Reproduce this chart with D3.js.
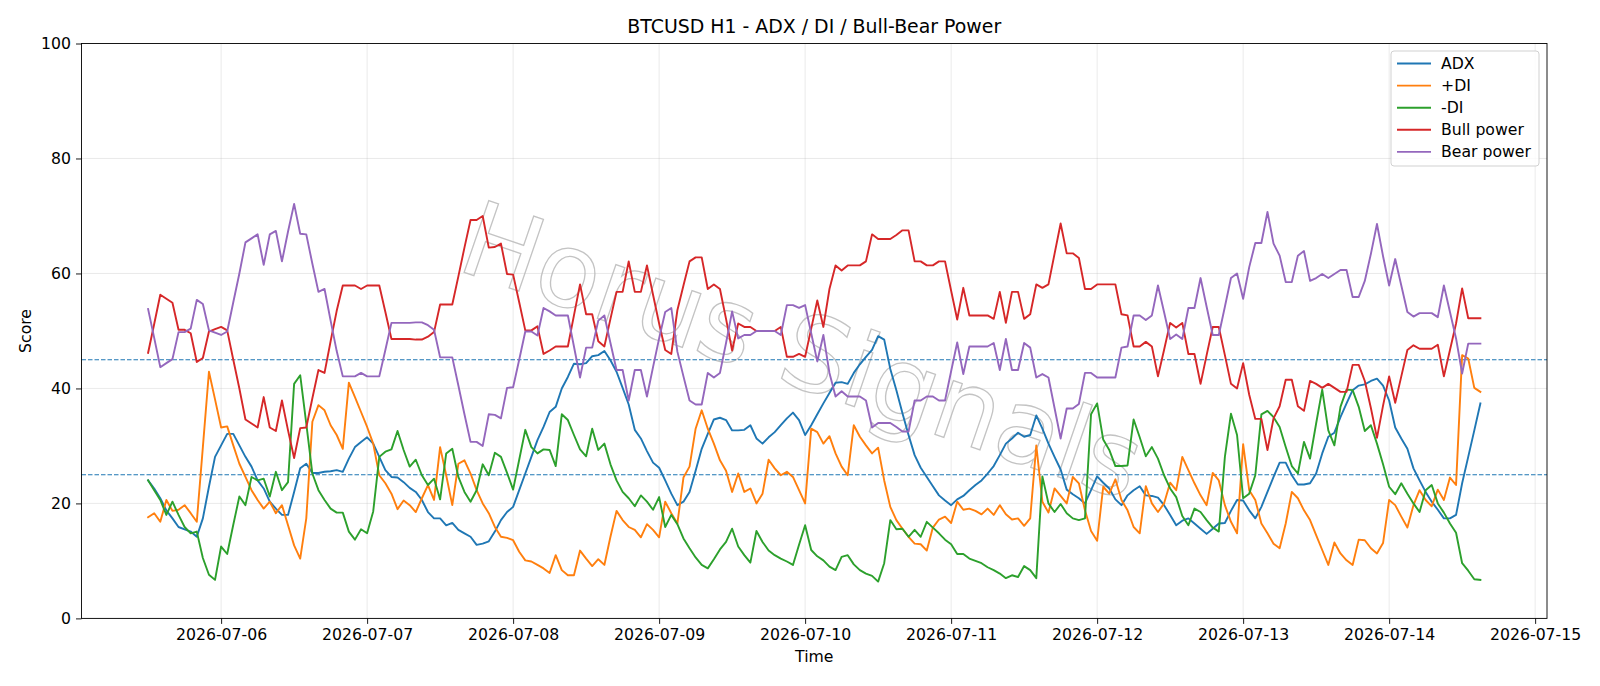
<!DOCTYPE html>
<html lang="en">
<head>
<meta charset="UTF-8">
<title>BTCUSD H1 - ADX / DI / Bull-Bear Power</title>
<script src="https://d3js.org/d3.v7.min.js"></script>
<style>
    body { margin: 0; background: #fff; }
    svg { display: block; font-family: "DejaVu Sans", sans-serif; }
</style>
</head>
<body>
<svg id="chart"></svg>
<script>
const width = 1600;
const height = 686;

// hourly bars, first one at 2026-07-05 12:00
const startTime = "2026-07-05T12:00:00Z";

const adx = [24.0, 22.6, 20.9, 18.8, 17.4, 15.9, 15.5, 15.1, 14.2, 17.4, 22.9, 28.1,
    30.1, 32.1, 32.1, 30.1, 28.1, 26.4, 24.0, 22.6, 20.3, 19.1, 18.0,
    18.0, 22.0, 26.1, 26.9, 25.3, 25.3, 25.5, 25.6, 25.8, 25.5, 27.8, 29.8, 30.7, 31.5, 30.4, 28.1, 25.8, 24.6, 24.5, 23.7, 22.7,
    22.0, 20.6, 18.5, 17.4, 17.4, 16.2, 16.6, 15.4, 14.8, 14.2, 12.8, 13.0, 13.4, 15.1, 17.1, 18.5, 19.4, 22.3, 25.2, 28.1, 31.0, 33.3, 35.9, 36.8,
    40.0, 42.0, 44.3, 44.2, 44.4, 45.6, 45.8, 46.5, 44.9, 42.9, 40.1, 37.2, 32.8, 31.3, 29.1, 27.1, 26.2, 24.0, 21.7, 19.7, 20.3, 22.0, 25.7,
    29.5, 32.1, 34.6, 34.9, 34.5, 32.7, 32.7, 32.8, 33.6, 31.3, 30.4, 31.5, 32.4, 33.6, 34.8, 35.8, 34.5, 31.9, 33.6, 35.5, 37.4, 39.2,
    41.0, 41.1, 40.8, 42.7, 44.2, 45.5, 46.7, 49.1, 48.5, 43.4, 39.7, 35.7, 31.9, 28.4, 26.2, 24.6, 23.0, 21.4, 20.5, 19.7, 20.7, 21.3, 22.3,
    23.2, 24.0, 25.2, 26.5, 28.4, 30.4, 31.3, 32.3, 31.6, 31.9, 35.3, 33.0, 30.4, 28.1, 25.9, 22.4, 21.6, 20.9, 20.0, 22.3, 24.7, 23.6, 22.6,
    20.7, 19.7, 21.4, 22.3, 23.0, 21.4, 21.3, 21.0, 19.7, 18.0, 16.2, 17.0, 17.4, 16.5, 15.6, 14.7, 15.6, 16.5, 16.6, 18.7, 20.6, 20.5,
    18.8, 17.4, 19.4, 22.0, 24.6, 27.1, 27.1, 24.9, 23.3, 23.3, 23.5, 25.2, 28.7, 31.6, 32.3, 35.0, 37.4, 39.7, 40.5, 40.7, 41.3, 41.7, 40.5,
    37.9, 33.2, 31.3, 29.5, 26.1, 24.0, 22.0, 20.3, 18.9, 17.4, 17.4, 18.0, 23.5, 28.1, 32.7, 37.4];

const plusDI = [17.6, 18.3, 16.8, 20.6, 18.7, 18.9, 19.7, 18.3, 16.8, 29.8, 42.9, 38.1,
    33.2, 33.4, 30.1, 26.9, 24.6, 22.3, 20.6, 19.1, 20.3, 18.3, 19.7,
    16.2, 12.7, 10.4, 17.4, 34.2, 37.1, 36.2, 33.6, 31.9, 29.5, 41.0, 38.5, 35.9, 33.3, 30.4, 24.9, 23.5, 21.7, 19.0, 20.5, 19.7,
    18.5, 20.9, 23.2, 20.6, 29.8, 24.9, 19.7, 26.9, 27.5, 25.2, 22.3, 20.0, 18.3, 15.9, 14.2, 14.0, 13.6, 11.6, 10.1, 9.9, 9.3, 8.7, 7.9, 11.0,
    8.4, 7.5, 7.5, 11.8, 10.4, 9.1, 10.3, 9.3, 14.2, 18.7, 17.1, 15.9, 15.4, 14.1, 16.4, 15.4, 14.1, 20.3, 18.3, 16.5, 24.5, 26.4, 33.0,
    36.2, 33.0, 30.4, 27.5, 25.7, 22.0, 25.2, 22.0, 22.6, 20.0, 21.7, 27.6, 26.1, 24.9, 25.5, 24.6, 22.3, 20.0, 33.0, 32.4, 30.4, 31.7,
    28.7, 26.4, 24.9, 33.6, 31.6, 30.1, 28.7, 29.7, 24.0, 19.4, 17.1, 15.6, 14.2, 13.0, 12.9, 11.8, 15.8, 17.2, 17.7, 16.6, 20.3, 18.9, 19.1,
    18.7, 18.1, 19.1, 18.0, 19.7, 18.1, 17.2, 17.4, 16.1, 17.4, 30.1, 20.3, 18.4, 22.6, 21.3, 20.0, 24.6, 23.5, 18.8, 15.2, 13.5, 22.9, 21.7,
    24.2, 20.6, 18.8, 15.9, 14.8, 23.0, 20.0, 18.5, 20.0, 23.6, 22.3, 28.1, 25.8, 23.5, 21.4, 19.7, 25.3, 24.0, 19.7, 16.8, 14.8, 30.3,
    22.3, 20.6, 16.5, 14.8, 13.0, 12.2, 16.5, 22.0, 20.9, 18.8, 17.1, 14.5, 11.9, 9.3, 13.2, 11.3, 10.1, 9.3, 13.7, 13.6, 12.2, 11.3, 13.1,
    20.6, 19.7, 17.7, 15.8, 19.7, 22.3, 20.6, 19.5, 22.4, 20.6, 24.5, 23.2, 45.8, 45.2, 40.1, 39.4];

const minusDI = [24.0, 22.3, 20.6, 18.0, 20.3, 18.0, 15.9, 14.8, 15.1, 10.5, 7.6, 6.7,
    12.5, 11.2, 16.3, 21.2, 19.7, 24.6, 24.0, 24.3, 21.2, 25.5, 22.3,
    23.7, 40.8, 42.3, 33.9, 25.2, 22.3, 20.6, 19.1, 18.4, 18.4, 15.1, 13.7, 15.5, 14.8, 18.6, 28.1, 29.0, 29.4, 32.6, 29.3, 26.4,
    27.6, 24.9, 23.2, 24.3, 20.7, 28.7, 29.5, 24.6, 22.0, 20.3, 22.3, 26.8, 24.9, 28.8, 28.1, 25.3, 22.4, 27.6, 32.8, 29.8, 28.7, 29.4, 29.3, 26.5,
    35.5, 34.5, 31.9, 29.4, 28.2, 33.0, 29.3, 30.4, 26.8, 24.0, 22.0, 20.9, 19.5, 21.4, 20.3, 18.9, 21.1, 15.9, 18.0, 16.4, 13.9, 12.2, 10.6,
    9.3, 8.7, 10.3, 12.0, 13.3, 15.6, 12.5, 11.0, 9.7, 15.2, 13.3, 11.8, 11.0, 10.4, 9.9, 9.3, 12.8, 16.2, 11.9, 10.8, 10.1, 9.0,
    8.4, 10.7, 11.0, 9.4, 8.4, 7.8, 7.4, 6.4, 9.6, 17.1, 15.5, 15.6, 14.2, 15.4, 14.2, 16.8, 15.8, 14.8, 13.7, 12.9, 11.2, 11.2, 10.4,
    10.0, 9.6, 8.9, 8.4, 7.8, 7.0, 7.5, 7.2, 9.1, 8.4, 7.0, 24.7, 20.0, 18.5, 19.9, 18.3, 17.4, 17.1, 17.4, 35.5, 37.4, 31.1, 29.3,
    26.5, 26.5, 26.6, 34.6, 31.5, 28.2, 29.8, 27.8, 24.9, 22.6, 21.1, 17.8, 16.2, 19.1, 18.5, 17.1, 15.8, 15.1, 28.1, 35.6, 31.9, 20.9,
    21.7, 24.9, 35.5, 36.1, 35.0, 33.3, 29.8, 26.5, 25.2, 30.7, 27.8, 33.9, 39.8, 32.7, 30.1, 36.8, 39.8, 39.7, 36.8, 32.6, 33.6, 30.4, 26.8,
    22.9, 21.6, 23.5, 21.7, 20.0, 18.5, 22.3, 23.2, 20.0, 18.4, 16.5, 14.9, 9.6, 8.3, 6.8, 6.7];

const bullPower = [46.2, 51.2, 56.3, 55.6, 54.9, 50.2, 50.2, 49.6, 44.6, 45.3, 49.9, 50.3,
    50.7, 50.1, 45.0, 40.0, 34.6, 33.9, 33.2, 38.5, 33.2, 32.6, 37.9,
    32.7, 27.9, 33.1, 33.2, 38.3, 43.2, 42.7, 48.2, 53.5, 57.9, 57.9, 57.9, 57.3, 57.9, 57.9, 57.9, 53.3, 48.6, 48.6, 48.6, 48.6,
    48.5, 48.5, 49.0, 49.8, 54.6, 54.6, 54.6, 59.5, 64.5, 69.3, 69.3, 70.0, 64.5, 64.6, 65.2, 59.9, 59.8, 55.0, 50.1, 50.1, 50.8, 46.0, 46.6, 47.3,
    47.3, 47.3, 52.7, 58.1, 52.9, 52.9, 48.2, 47.3, 52.1, 56.8, 56.8, 62.1, 56.8, 56.8, 61.4, 56.3, 51.3, 46.7, 46.0, 53.6, 57.9, 62.1, 62.8,
    62.8, 57.3, 58.1, 57.3, 52.1, 46.6, 51.3, 50.7, 50.7, 50.0, 50.0, 50.0, 50.0, 50.7, 45.5, 45.5, 46.0, 45.5, 50.4, 55.3, 50.7, 57.3,
    61.4, 60.5, 61.4, 61.4, 61.4, 62.1, 66.8, 66.0, 66.0, 66.0, 66.7, 67.5, 67.5, 62.1, 62.1, 61.4, 61.4, 62.1, 62.1, 57.0, 52.0, 57.5, 52.7,
    52.7, 52.7, 52.7, 52.1, 56.8, 51.4, 56.8, 56.8, 52.1, 52.9, 58.1, 57.5, 58.1, 63.4, 68.7, 63.5, 63.5, 62.7, 57.3, 57.3, 58.1, 58.1, 58.1,
    58.1, 52.9, 52.7, 47.3, 47.3, 48.1, 47.3, 42.1, 46.7, 51.4, 50.6, 51.4, 46.0, 46.0, 40.8, 45.8, 50.7, 50.7, 45.8, 40.8, 40.0, 44.4,
    38.9, 34.7, 34.7, 29.3, 34.8, 36.9, 41.5, 41.5, 36.9, 36.1, 41.3, 40.8, 40.1, 40.8, 40.1, 39.4, 39.4, 44.1, 44.1, 41.3, 36.6, 31.4, 37.0,
    42.1, 37.5, 42.1, 46.7, 47.5, 46.9, 46.9, 46.9, 47.6, 42.1, 46.7, 51.3, 57.4, 52.2, 52.2, 52.2];

const bearPower = [53.8, 48.8, 43.7, 44.4, 45.1, 49.8, 49.8, 50.4, 55.4, 54.7, 50.1, 49.7,
    49.3, 49.9, 55.0, 60.0, 65.4, 66.1, 66.8, 61.5, 66.8, 67.4, 62.1,
    67.3, 72.1, 66.9, 66.8, 61.7, 56.8, 57.3, 51.8, 46.5, 42.1, 42.1, 42.1, 42.7, 42.1, 42.1, 42.1, 46.7, 51.4, 51.4, 51.4, 51.4,
    51.5, 51.5, 51.0, 50.2, 45.4, 45.4, 45.4, 40.5, 35.5, 30.7, 30.7, 30.0, 35.5, 35.4, 34.8, 40.1, 40.2, 45.0, 49.9, 49.9, 49.2, 54.0, 53.4, 52.7,
    52.7, 52.7, 47.3, 41.9, 47.1, 47.1, 51.8, 52.7, 47.9, 43.2, 43.2, 37.9, 43.2, 43.2, 38.6, 43.7, 48.7, 53.3, 54.0, 46.4, 42.1, 37.9, 37.2,
    37.2, 42.7, 41.9, 42.7, 47.9, 53.4, 48.7, 49.3, 49.3, 50.0, 50.0, 50.0, 50.0, 49.3, 54.5, 54.5, 54.0, 54.5, 49.6, 44.7, 49.3, 42.7,
    38.6, 39.5, 38.6, 38.6, 38.6, 37.9, 33.2, 34.0, 34.0, 34.0, 33.3, 32.5, 32.5, 37.9, 37.9, 38.6, 38.6, 37.9, 37.9, 43.0, 48.0, 42.5, 47.3,
    47.3, 47.3, 47.3, 47.9, 43.2, 48.6, 43.2, 43.2, 47.9, 47.1, 41.9, 42.5, 41.9, 36.6, 31.3, 36.5, 36.5, 37.3, 42.7, 42.7, 41.9, 41.9, 41.9,
    41.9, 47.1, 47.3, 52.7, 52.7, 51.9, 52.7, 57.9, 53.3, 48.6, 49.4, 48.6, 54.0, 54.0, 59.2, 54.2, 49.3, 49.3, 54.2, 59.2, 60.0, 55.6,
    61.1, 65.3, 65.3, 70.7, 65.2, 63.1, 58.5, 58.5, 63.1, 63.9, 58.7, 59.2, 59.9, 59.2, 59.9, 60.6, 60.6, 55.9, 55.9, 58.7, 63.4, 68.6, 63.0,
    57.9, 62.5, 57.9, 53.3, 52.5, 53.1, 53.1, 53.1, 52.4, 57.9, 53.3, 48.7, 42.6, 47.8, 47.8, 47.8];

const seriesNames = ["ADX", "+DI", "-DI", "Bull power", "Bear power"];
const colors = ["#1f77b4", "#ff7f0e", "#2ca02c", "#d62728", "#9467bd"];
const levels = [45, 25];
const yTicks = [0, 20, 40, 60, 80, 100];
const xTickDays = ["2026-07-06", "2026-07-07", "2026-07-08", "2026-07-09", "2026-07-10",
    "2026-07-11", "2026-07-12", "2026-07-13", "2026-07-14", "2026-07-15"];

const allSeries = [adx, plusDI, minusDI, bullPower, bearPower];

const margin = {top: 43.5, right: 53, bottom: 67.6, left: 81.5};
const fs = 15.7; // tick / label font size

const t0 = new Date(startTime);
const times = adx.map((d, i) => d3.utcHour.offset(t0, i));
const span = times[times.length - 1] - times[0];

const x = d3.scaleUtc()
    .domain([new Date(+times[0] - 0.05 * span), new Date(+times[times.length - 1] + 0.05 * span)])
    .range([margin.left, width - margin.right]);

const y = d3.scaleLinear()
    .domain([0, 100])
    .range([height - margin.bottom, margin.top]);

const svg = d3.select("#chart")
    .attr("width", width)
    .attr("height", height)
    .attr("viewBox", [0, 0, width, height]);

const xTicks = xTickDays.map(d => new Date(d + "T00:00:00Z"));

// grid
const grid = svg.append("g")
    .attr("stroke", "#b0b0b0")
    .attr("stroke-opacity", 0.3)
    .attr("stroke-width", 0.9);
grid.selectAll("line.gx").data(xTicks).join("line")
    .attr("x1", d => x(d)).attr("x2", d => x(d))
    .attr("y1", y(0)).attr("y2", y(100));
grid.selectAll("line.gy").data(yTicks).join("line")
    .attr("x1", margin.left).attr("x2", width - margin.right)
    .attr("y1", d => y(d)).attr("y2", d => y(d));

// watermark
svg.append("text")
    .attr("transform", "translate(800,358) rotate(19)")
    .attr("text-anchor", "middle")
    .attr("dominant-baseline", "middle")
    .attr("font-size", 104)
    .attr("fill", "none")
    .attr("stroke", "#bdbdbd")
    .attr("stroke-width", 1.3)
    .attr("stroke-opacity", 0.9)
    .text("Horus Signals");

// reference levels
svg.append("g").selectAll("line").data(levels).join("line")
    .attr("x1", margin.left).attr("x2", width - margin.right)
    .attr("y1", d => y(d)).attr("y2", d => y(d))
    .attr("stroke", "#1f77b4")
    .attr("stroke-width", 1.1)
    .attr("stroke-dasharray", "4.5,2");

const line = d3.line()
    .x((d, i) => x(times[i]))
    .y(d => y(d));

svg.append("g")
    .attr("fill", "none")
    .attr("stroke-width", 1.9)
    .attr("stroke-linejoin", "round")
    .attr("stroke-linecap", "square")
    .selectAll("path")
    .data(allSeries)
    .join("path")
    .attr("stroke", (d, i) => colors[i])
    .attr("d", d => line(d));

// axes
const xAxis = g => g
    .attr("transform", `translate(0,${height - margin.bottom})`)
    .call(d3.axisBottom(x).tickValues(xTicks).tickFormat(d3.utcFormat("%Y-%m-%d")).tickSize(5.5).tickPadding(5).tickSizeOuter(0))
    .call(g => g.select(".domain").remove());

const yAxis = g => g
    .attr("transform", `translate(${margin.left},0)`)
    .call(d3.axisLeft(y).tickValues(yTicks).tickSize(5.5).tickPadding(5).tickSizeOuter(0))
    .call(g => g.select(".domain").remove());

svg.append("g").call(xAxis);
svg.append("g").call(yAxis);
svg.selectAll(".tick text")
    .attr("font-size", fs)
    .attr("font-family", "DejaVu Sans")
    .attr("fill", "#000");
svg.selectAll(".tick line").attr("stroke", "#000").attr("stroke-width", 0.9);

svg.append("rect")
    .attr("x", margin.left).attr("y", margin.top)
    .attr("width", width - margin.left - margin.right)
    .attr("height", height - margin.top - margin.bottom)
    .attr("fill", "none")
    .attr("stroke", "#000")
    .attr("stroke-width", 0.9);

// labels
svg.append("text")
    .attr("x", (margin.left + width - margin.right) / 2)
    .attr("y", 33)
    .attr("text-anchor", "middle")
    .attr("font-size", 18.9)
    .text("BTCUSD H1 - ADX / DI / Bull-Bear Power");

svg.append("text")
    .attr("x", (margin.left + width - margin.right) / 2)
    .attr("y", 662)
    .attr("text-anchor", "middle")
    .attr("font-size", fs)
    .text("Time");

svg.append("text")
    .attr("transform", `translate(31,${(margin.top + height - margin.bottom) / 2}) rotate(-90)`)
    .attr("text-anchor", "middle")
    .attr("font-size", fs)
    .text("Score");

// legend
const legend = svg.append("g").attr("transform", "translate(1391,51)");
legend.append("rect")
    .attr("width", 148).attr("height", 115)
    .attr("rx", 3)
    .attr("fill", "#fff").attr("fill-opacity", 0.8)
    .attr("stroke", "#cccccc").attr("stroke-width", 0.9);
const item = legend.selectAll("g.item").data(seriesNames).join("g")
    .attr("transform", (d, i) => `translate(0,${12.5 + i * 22.1})`);
item.append("line")
    .attr("x1", 6).attr("x2", 40)
    .attr("stroke", (d, i) => colors[i])
    .attr("stroke-width", 1.9);
item.append("text")
    .attr("x", 50).attr("dy", "0.35em")
    .attr("font-size", fs)
    .text(d => d);
</script>
</body>
</html>
